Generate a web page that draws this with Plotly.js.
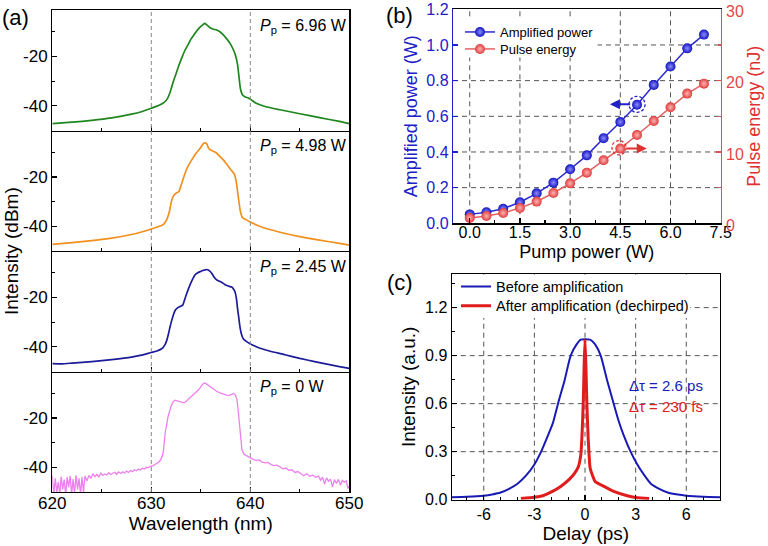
<!DOCTYPE html>
<html><head><meta charset="utf-8">
<script src="https://cdn.plot.ly/plotly-3.0.1.min.js"></script>
<style>html,body{margin:0;padding:0;background:#fff}#chart{width:768px;height:546px}</style>
</head><body><div id="chart"></div>
<script>
// ---------- Panel (a): spectra ----------
const wlGreen = [620,622,624,626,628,629,630,630.8,631.3,631.6,631.9,632.2,632.5,632.8,633.1,633.4,633.7,634.0,634.3,634.6,634.9,635.2,635.4,635.6,635.9,636.2,636.6,636.9,637.2,637.6,638.0,638.3,638.5,638.7,638.85,639.0,639.2,639.5,639.8,640.1,640.6,641.5,643,645,647,649,650];
const dbGreen = [-47.2,-46.6,-45.9,-44.9,-43.4,-42.4,-41.0,-39.8,-38.6,-37.3,-34.5,-30.5,-27.0,-23.5,-20.4,-17.5,-15.3,-13.0,-11.3,-9.6,-8.2,-7.2,-6.6,-7.2,-8.3,-8.9,-9.3,-9.9,-11.0,-12.8,-15.0,-17.4,-19.5,-23.0,-28.0,-33.0,-35.5,-36.4,-36.8,-37.6,-39.0,-40.3,-41.6,-43.2,-44.8,-46.3,-47.2];

const wlOrange = [620,622,624,626,628,629,630,630.8,631.2,631.5,631.8,632.0,632.2,632.5,632.8,633.0,633.2,633.5,633.8,634.1,634.5,634.9,635.2,635.4,635.6,635.8,636.1,636.5,636.9,637.3,637.7,638.1,638.4,638.6,638.8,639.0,639.2,639.6,640.0,640.7,641.6,643,645,647,649,650];
const dbOrange = [-47.3,-46.6,-45.8,-44.8,-43.3,-42.3,-41.1,-40.0,-39.3,-37.7,-34.5,-30.5,-28.0,-26.6,-25.9,-23.5,-21.0,-17.5,-15.0,-13.0,-10.5,-8.6,-6.8,-6.2,-6.6,-8.5,-9.3,-10.0,-11.6,-13.2,-15.3,-17.4,-19.0,-22.5,-28.5,-34.0,-36.4,-37.4,-38.3,-39.6,-40.9,-42.4,-44.2,-45.6,-46.9,-47.6];

const wlBlue = [620,621,622,624,626,628,629,630,630.5,631.05,631.4,631.56,631.75,631.89,632.05,632.22,632.4,632.56,632.9,633.17,633.4,633.58,633.9,634.15,634.41,634.7,634.92,635.2,635.42,635.6,635.76,635.95,636.1,636.35,636.6,636.9,637.27,637.5,637.78,638.12,638.3,638.45,638.6,638.69,638.83,638.96,639.1,639.29,639.6,639.97,640.5,640.98,642,643.5,645,646.5,648,649,650];
const dbBlue = [-46.8,-46.9,-46.6,-46.0,-45.2,-44.2,-43.4,-42.3,-41.8,-40.8,-39.0,-37.4,-34.5,-32.0,-29.5,-27.2,-25.3,-24.5,-23.7,-23.1,-20.5,-18.4,-15.0,-12.8,-10.9,-10.0,-9.6,-9.1,-8.9,-8.7,-8.9,-9.5,-10.2,-11.8,-12.9,-13.5,-14.3,-15.0,-15.4,-15.8,-16.6,-17.7,-20.5,-23.8,-28.0,-32.0,-34.8,-36.7,-37.8,-38.8,-39.8,-40.6,-41.8,-43.2,-44.7,-46.0,-47.2,-48.0,-48.7];

const wlPink = [620.0,620.15,620.3,620.45,620.6,620.75,620.9,621.05,621.2,621.35,621.5,621.65,621.8,621.95,622.1,622.25,622.4,622.55,622.7,622.85,623.0,623.15,623.3,623.5,623.7,623.9,624.1,624.3,624.5,624.7,624.9,625.1,625.3,625.5,625.7,625.9,626.1,626.3,626.5,626.7,626.9,627.1,627.3,627.5,627.7,627.9,628.1,628.3,628.5,628.7,628.9,629.1,629.3,629.5,629.7,629.9,630.2,630.5,630.8,631.0,631.2,631.4,631.55,631.7,632.0,632.2,632.4,632.6,632.9,633.2,633.4,633.7,634.1,634.5,634.8,635.1,635.3,635.5,635.9,636.2,636.6,637.0,637.3,637.6,637.9,638.15,638.3,638.5,638.65,638.8,638.95,639.05,639.15,639.35,639.6,639.8,640.0,640.3,640.6,640.9,641.2,641.5,641.8,642.1,642.4,642.7,643.0,643.3,643.6,643.9,644.2,644.5,644.8,645.1,645.4,645.7,646.0,646.3,646.6,646.9,647.1,647.3,647.5,647.7,647.9,648.1,648.3,648.5,648.7,648.9,649.1,649.3,649.5,649.7,649.85,650.0];
const dbPink = [-43.5,-51,-44.5,-50,-46,-51,-43.8,-49,-45,-51,-44,-48,-43.5,-51,-44.8,-50.5,-43.2,-49,-44.5,-51,-44,-50,-43.5,-45.5,-43.3,-44.4,-42.6,-43.8,-42.9,-43.9,-42.4,-43.3,-42.7,-43.1,-42.2,-42.9,-42.4,-42.0,-42.8,-41.9,-42.5,-41.8,-42.3,-41.5,-42.1,-41.3,-41.8,-41.0,-41.4,-40.7,-41.1,-40.4,-40.7,-40.0,-40.2,-39.6,-39.3,-38.6,-37.8,-36.5,-34.2,-26.1,-22.0,-19.3,-15.3,-13.5,-12.8,-13.0,-13.6,-13.8,-13.7,-12.6,-11.2,-9.6,-8.5,-6.8,-5.9,-6.0,-7.2,-8.3,-9.2,-10.0,-10.5,-10.8,-10.9,-10.4,-10.1,-10.8,-12.5,-18.0,-24.0,-29.0,-32.8,-34.6,-35.3,-35.8,-36.2,-36.8,-37.2,-37.0,-37.9,-38.2,-38.0,-38.9,-39.3,-39.1,-40.0,-40.6,-40.3,-41.2,-41.0,-42.1,-41.7,-42.5,-43.4,-42.6,-43.6,-43.2,-44.0,-43.6,-45.2,-44.0,-46.8,-44.3,-45.6,-44.8,-47.9,-45.0,-46.5,-44.9,-47.2,-45.3,-46.0,-45.5,-48.5,-47.5];

const pumpLabels = ['0', '2.45', '4.98', '6.96'];

// ---------- Panel (b): power & energy ----------
const pumpPower   = [0,0.5,1.0,1.5,2.0,2.5,3.0,3.5,4.0,4.5,5.0,5.5,6.0,6.5,7.0];
const ampPower    = [0.050,0.062,0.082,0.118,0.168,0.228,0.303,0.381,0.477,0.568,0.665,0.776,0.879,0.981,1.058];
const pulseEnergy = [0.75,1.03,1.45,2.15,3.04,4.25,5.6,7.1,8.83,10.47,12.38,14.35,16.26,18.18,19.58];
const pumpTicks   = [0,1.5,3.0,4.5,6.0,7.5];
const powerTicks  = [0,0.2,0.4,0.6,0.8,1.0,1.2];

// ---------- Panel (c): autocorrelation ----------
const delayBefore = [-7.9,-7,-6,-5.5,-5,-4.5,-4,-3.5,-3,-2.6,-2.2,-1.9,-1.6,-1.2,-0.85,-0.5,-0.25,0.3,0.6,0.93,1.3,1.7,2.0,2.3,2.7,3.1,3.5,3.9,4.4,4.9,5.5,6,7,8];
const intBefore   = [0.015,0.018,0.025,0.033,0.045,0.068,0.1,0.15,0.22,0.3,0.4,0.48,0.6,0.75,0.9,0.97,1.0,1.0,0.97,0.9,0.75,0.6,0.49,0.4,0.3,0.22,0.155,0.1,0.068,0.045,0.032,0.025,0.018,0.015];
const delayAfter  = [-3.8,-3.0,-2.5,-1.93,-1.44,-0.95,-0.61,-0.39,-0.25,-0.17,-0.1,-0.05,0,0.05,0.11,0.19,0.3,0.45,0.6,1.12,1.7,2.5,3.1,3.8];
const intAfter    = [0.008,0.015,0.025,0.052,0.083,0.125,0.166,0.208,0.28,0.42,0.62,0.85,1.0,0.85,0.6,0.38,0.2,0.15,0.114,0.083,0.052,0.025,0.012,0.008];
const delayTicks  = [-6,-3,0,3,6];
const delayTickText = ['-6','-3','0','3','6'];
const intTicks    = [0,0.3,0.6,0.9,1.2];

// ---------- Figure ----------
const FONT = 'Liberation Sans, Arial, Helvetica, sans-serif';
const W = 768, H = 546;
const px = v => v / W;
const py = v => 1 - v / H;

const traces = [
  {x: wlPink, y: dbPink, xaxis:'x', yaxis:'y', mode:'lines', line:{color:'#ee7fee', width:1.3}, showlegend:false},
  {x: wlBlue, y: dbBlue, xaxis:'x2', yaxis:'y2', mode:'lines', line:{color:'#1c1c9a', width:1.7, shape:'spline', smoothing:0.5}, showlegend:false},
  {x: wlOrange, y: dbOrange, xaxis:'x3', yaxis:'y3', mode:'lines', line:{color:'#f0901e', width:1.7, shape:'spline', smoothing:0.5}, showlegend:false},
  {x: wlGreen, y: dbGreen, xaxis:'x4', yaxis:'y4', mode:'lines', line:{color:'#1f861f', width:1.7, shape:'spline', smoothing:0.5}, showlegend:false},
  {x: pumpPower, y: ampPower, xaxis:'x5', yaxis:'y5', mode:'lines+markers', name:'Amplified power', legend:'legend',
   line:{color:'#2a2ad0', width:1.5}, marker:{size:10, color:'#1414c0', gradient:{type:'radial', color:'#8c8cff'}, line:{width:0}}},
  {x: pumpPower, y: pulseEnergy, xaxis:'x5', yaxis:'y6', mode:'lines+markers', name:'Pulse energy', legend:'legend2',
   line:{color:'#e46060', width:1.5}, marker:{size:10, color:'#e03c3c', gradient:{type:'radial', color:'#ffb4b4'}, line:{width:0}}},
  {x: delayBefore, y: intBefore, xaxis:'x7', yaxis:'y7', mode:'lines', name:'Before amplification', legend:'legend3',
   line:{color:'#1a1ab4', width:2, shape:'spline', smoothing:0.6}},
  {x: delayAfter, y: intAfter, xaxis:'x7', yaxis:'y7', mode:'lines', name:'After amplification (dechirped)', legend:'legend4',
   line:{color:'#e01c1c', width:3, shape:'spline', smoothing:0.4}}
];

const aDomX = [px(52.3), px(349.3)];
const aBounds = [492, 371.5, 251, 130.5, 10];
const aDom = i => [py(aBounds[i]), py(aBounds[i+1])];

const baseAx = {
  ticks:'inside', ticklen:5, tickwidth:1.2, tickcolor:'#000', linecolor:'#000', linewidth:1.2,
  showgrid:false, zeroline:false, tickfont:{size:17, color:'#000'}
};
function aX(i, anchor){
  return Object.assign({}, baseAx, {
    domain: aDomX, anchor: anchor, range:[620,650], tickmode:'linear', tick0:620, dtick:10,
    mirror: i === 3,
    minor:{dtick:5, tick0:620, ticks:'inside', ticklen:3, tickcolor:'#000'},
    showticklabels: i === 0
  });
}
function aY(i, anchor){
  return Object.assign({}, baseAx, {
    domain: aDom(i), anchor: anchor, range:[-50,-1.2], tickvals:[-40,-20], ticktext:['-40','-20'], mirror:true,
    minor:{tickvals:[-30,-10], ticks:'inside', ticklen:3, tickcolor:'#000'}
  });
}

const legendBase = {xanchor:'left', yanchor:'top', bgcolor:'rgba(0,0,0,0)', borderwidth:0, itemwidth:30, tracegroupgap:0};
const gridLine = {color:'#555', width:1, dash:'5px,4px'};

// dashed grid drawn as shapes so the legend areas can be blanked out on top of it
const shapes = [
  {type:'line', xref:'x', yref:'paper', x0:630, x1:630, y0:py(492), y1:py(10), line:{color:'#888', width:1, dash:'4px,3px'}},
  {type:'line', xref:'x', yref:'paper', x0:640, x1:640, y0:py(492), y1:py(10), line:{color:'#888', width:1, dash:'4px,3px'}}
];
pumpTicks.slice(0, -1).forEach(v => shapes.push({type:'line', layer:'below', xref:'x5', yref:'y5 domain', x0:v, x1:v, y0:0, y1:1, line:gridLine}));
powerTicks.slice(1, -1).forEach(v => shapes.push({type:'line', layer:'below', xref:'x5 domain', yref:'y5', x0:0, x1:1, y0:v, y1:v, line:gridLine}));
delayTicks.forEach(v => shapes.push({type:'line', layer:'below', xref:'x7', yref:'y7 domain', x0:v, x1:v, y0:0, y1:1, line:gridLine}));
intTicks.slice(1).forEach(v => shapes.push({type:'line', layer:'below', xref:'x7 domain', yref:'y7', x0:0, x1:1, y0:v, y1:v, line:gridLine}));
shapes.push(
  {type:'rect', layer:'below', xref:'x5 domain', yref:'y5 domain', x0:0.03, x1:0.54, y0:0.775, y1:0.95, fillcolor:'#fff', line:{width:0}},
  {type:'rect', layer:'below', xref:'x7 domain', yref:'y7 domain', x0:0.02, x1:0.888, y0:0.805, y1:0.985, fillcolor:'#fff', line:{width:0}},
  {type:'circle', xref:'x5', yref:'y5', x0:4.76, x1:5.24, y0:0.622, y1:0.712, line:{color:'#2020c8', width:1.3, dash:'3px,2px'}},
  {type:'circle', xref:'x5', yref:'y6', x0:4.25, x1:4.67, y0:9.6, y1:11.6, line:{color:'#e03030', width:1.3, dash:'3px,2px'}}
);

const layout = {
  width: W, height: H, margin:{l:0,r:0,t:0,b:0}, paper_bgcolor:'#fff', plot_bgcolor:'rgba(0,0,0,0)',
  font:{family: FONT, color:'#000'}, hovermode:false,
  xaxis: Object.assign(aX(0,'y'), {ticklabelstandoff:-5, title:{text:'Wavelength (nm)', font:{size:19}, standoff:2}}),
  xaxis2: Object.assign(aX(1,'y2'), {matches:'x'}),
  xaxis3: Object.assign(aX(2,'y3'), {matches:'x'}),
  xaxis4: Object.assign(aX(3,'y4'), {matches:'x'}),
  yaxis: aY(0,'x'), yaxis2: aY(1,'x2'), yaxis3: aY(2,'x3'), yaxis4: aY(3,'x4'),

  xaxis5: Object.assign({}, baseAx, {
    domain:[px(453), px(720.7)], anchor:'y5', range:[-0.5,7.5], tickvals:pumpTicks, tickformat:'.1f',
    mirror:true, tickfont:{size:16}, ticklabelstandoff:-6,
    minor:{dtick:0.75, tick0:0, ticks:'inside', ticklen:3, tickcolor:'#000', showgrid:false},
    title:{text:'Pump power (W)', font:{size:18}, standoff:5}
  }),
  yaxis5: Object.assign({}, baseAx, {
    domain:[py(223.3), py(9.3)], anchor:'x5', range:[0,1.2], tickvals:powerTicks, tickformat:'.1f',
    linecolor:'#2020c8', tickcolor:'#2020c8', tickfont:{size:16, color:'#2020c8'},
    title:{text:'Amplified power (W)', font:{size:18, color:'#2020c8'}, standoff:4}
  }),
  yaxis6: Object.assign({}, baseAx, {
    overlaying:'y5', side:'right', anchor:'x5', range:[0,30], tickmode:'linear', tick0:0, dtick:10,
    linecolor:'#e05050', tickcolor:'#e05050', tickfont:{size:16, color:'#e04848'},
    ticklabelshift:2, ticklabelstandoff:1,
    minor:{dtick:5, tick0:0, ticks:'inside', ticklen:3, tickcolor:'#e05050'},
    title:{text:'Pulse energy (nJ)', font:{size:18, color:'#e03030'}, standoff:3}
  }),

  xaxis7: Object.assign({}, baseAx, {
    domain:[px(451.7), px(720)], anchor:'y7', range:[-7.9,8], tickvals:delayTicks, ticktext:delayTickText,
    mirror:true, tickfont:{size:16}, minor:{dtick:1, tick0:0, ticks:'inside', ticklen:3, tickcolor:'#000', showgrid:false},
    title:{text:'Delay (ps)', font:{size:19}, standoff:2}
  }),
  yaxis7: Object.assign({}, baseAx, {
    domain:[py(499.7), py(274)], anchor:'x7', range:[0,1.41], tickvals:intTicks, tickformat:'.1f',
    mirror:true, tickfont:{size:16}, minor:{dtick:0.15, tick0:0, ticks:'inside', ticklen:3, tickcolor:'#000', showgrid:false},
    title:{text:'Intensity (a.u.)', font:{size:19}, standoff:4}
  }),

  legend:  Object.assign({}, legendBase, {x: px(460), y: py(17),   font:{size:13}}),
  legend2: Object.assign({}, legendBase, {x: px(460), y: py(34),   font:{size:13}}),
  legend3: Object.assign({}, legendBase, {x: px(456), y: py(270.5), font:{size:14.5}}),
  legend4: Object.assign({}, legendBase, {x: px(456), y: py(289.8), font:{size:14.5}}),

  shapes: shapes,

  annotations: [
    {xref:'paper', yref:'paper', x:px(0), y:py(17), xanchor:'left', yanchor:'middle', text:'(a)', showarrow:false, font:{size:22}},
    {xref:'paper', yref:'paper', x:px(384), y:py(15), xanchor:'left', yanchor:'middle', text:'(b)', showarrow:false, font:{size:22}},
    {xref:'paper', yref:'paper', x:px(385), y:py(282), xanchor:'left', yanchor:'middle', text:'(c)', showarrow:false, font:{size:22}},
    {xref:'paper', yref:'paper', x:px(12), y:py(251), xanchor:'center', yanchor:'middle', textangle:-90,
     text:'Intensity (dBm)', showarrow:false, font:{size:19}},
    {xref:'paper', yref:'paper', x:px(627), y:py(385), xanchor:'left', yanchor:'middle', text:'Δτ = 2.6 ps', showarrow:false, font:{size:15, color:'#1a1ab8'}},
    {xref:'paper', yref:'paper', x:px(627), y:py(406), xanchor:'left', yanchor:'middle', text:'Δτ = 230 fs', showarrow:false, font:{size:15, color:'#dd2020'}},
    {xref:'x5', yref:'y5', x:4.19, y:0.667, axref:'x5', ayref:'y5', ax:4.84, ay:0.667, text:'', showarrow:true,
     arrowhead:2, arrowsize:1, arrowwidth:2, arrowcolor:'#2020c8'},
    {xref:'x5', yref:'y6', x:5.29, y:10.5, axref:'x5', ayref:'y6', ax:4.64, ay:10.5, text:'', showarrow:true,
     arrowhead:2, arrowsize:1, arrowwidth:2, arrowcolor:'#e03030'}
  ]
};

// P_p labels, one per spectrum panel (bottom to top)
pumpLabels.forEach((p, i) => {
  layout.annotations.push({
    xref:'paper', yref:'paper', x:px(258), y:py(aBounds[i+1] + 16), xanchor:'left', yanchor:'middle',
    text:'<i>P</i><sub>p</sub> = ' + p + ' W', showarrow:false, font:{size:16}
  });
});

Plotly.newPlot('chart', traces, layout, {staticPlot:true, displayModeBar:false});
</script></body></html>
